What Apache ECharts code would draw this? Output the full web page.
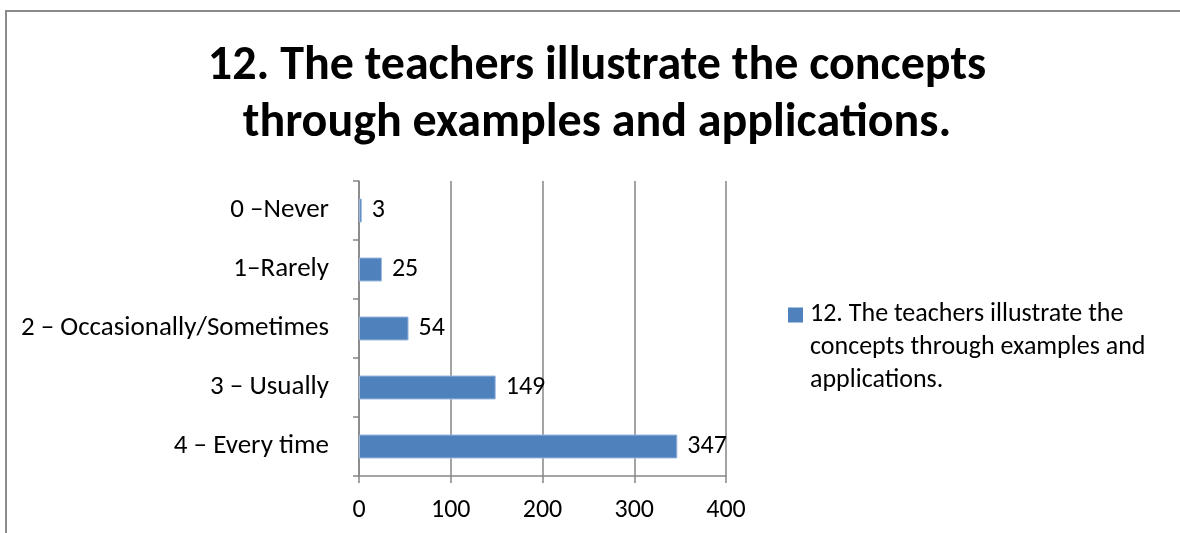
<!DOCTYPE html>
<html>
<head>
<meta charset="utf-8">
<script src="https://cdn.jsdelivr.net/npm/echarts@6/dist/echarts.min.js"></script>
<style>
html,body{margin:0;padding:0;background:#fff;}
#chart{width:1180px;height:533px;}
</style>
</head>
<body>
<div id="chart"></div>
<script>
const titleText = "12. The teachers illustrate the concepts\nthrough examples and applications.";
const seriesName = "12. The teachers illustrate the concepts through examples and applications.";
const legendLabel = "12. The teachers illustrate the\nconcepts through examples and\napplications.";
const categories = ["0 \u2013Never", "1\u2013Rarely", "2 \u2013 Occasionally/Sometimes", "3 \u2013 Usually", "4 \u2013 Every time"];
const values = [3, 25, 54, 149, 347];
const xTicks = [0, 100, 200, 300, 400];

const FONT = "Carlito, Lato, 'Open Sans', sans-serif";
const chart = echarts.init(document.getElementById('chart'), null, {renderer: 'canvas'});
chart.setOption({
  animation: false,
  backgroundColor: '#fff',
  graphic: [{
    type: 'rect', silent: true, z: -10,
    shape: {x: 6, y: 11, width: 1400, height: 800},
    style: {fill: 'none', stroke: '#8a8a8a', lineWidth: 2}
  }],
  title: {
    text: titleText,
    left: 597, top: 38, textAlign: 'center', padding: 0,
    textStyle: {fontFamily: FONT, fontWeight: 'bold', fontSize: 48, lineHeight: 57, color: '#000'}
  },
  legend: {
    show: true,
    left: 788, top: 298, padding: 0,
    orient: 'vertical',
    itemWidth: 15, itemHeight: 80, itemGap: 7,
    icon: 'path://M0,0L15,0L15,15L0,15Z M0,80L0.01,80',
    itemStyle: {borderWidth: 0, color: '#4F81BD'},
    formatter: function(){ return legendLabel; },
    textStyle: {fontFamily: FONT, fontSize: 26, lineHeight: 33, color: '#000', padding: [0,0,0,2]},
    selectedMode: false
  },
  grid: {left: 359, right: 454, top: 181, bottom: 57, containLabel: false},
  xAxis: {
    type: 'value', min: xTicks[0], max: xTicks[xTicks.length-1], interval: 100,
    axisLine: {show: true, lineStyle: {color: '#868686', width: 1.5}},
    axisTick: {show: true, length: 7, lineStyle: {color: '#868686', width: 1.5}},
    splitLine: {show: true, lineStyle: {color: '#868686', width: 1.5}},
    axisLabel: {fontFamily: FONT, fontSize: 26, color: '#000', margin: 21}
  },
  yAxis: {
    type: 'category', data: categories, inverse: true,
    axisLine: {show: true, lineStyle: {color: '#868686', width: 1.5}},
    axisTick: {show: true, length: 6, lineStyle: {color: '#868686', width: 1.5}},
    axisLabel: {fontFamily: FONT, fontSize: 27, color: '#000', margin: 30}
  },
  series: [{
    name: seriesName,
    type: 'bar',
    data: values,
    barWidth: 24,
    itemStyle: {color: '#4F81BD', borderColor: '#9DB9DD', borderWidth: 1},
    label: {show: true, position: 'right', distance: 10, fontFamily: FONT, fontSize: 26, color: '#000'}
  }]
});
</script>
</body>
</html>
